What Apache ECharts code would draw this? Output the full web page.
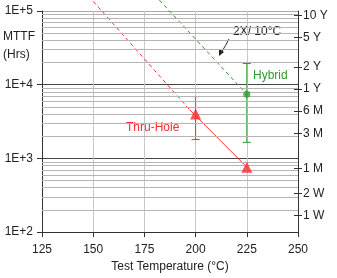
<!DOCTYPE html>
<html><head><meta charset="utf-8">
<script src="https://cdn.jsdelivr.net/npm/echarts@6/dist/echarts.min.js"></script>
<style>html,body{margin:0;padding:0;background:#fff}#c{width:337px;height:278px}</style>
</head><body><div id="c"></div>
<script>
// ---- data ----
const xTicks = [125, 150, 175, 200, 225, 250];
const minorGrid = [200,300,400,500,600,700,800,900,2000,3000,4000,5000,6000,7000,8000,9000,20000,30000,40000,50000,60000,70000,80000,90000];
const rightHours = [87600, 43800, 17520, 8760, 4380, 2190, 730, 336, 168];
const rightLabels = ['10 Y','5 Y','2 Y','1 Y','6 M','3 M','1 M','2 W','1 W'];
const thruPoints = [[200, 4000], [225, 760]];
const thruErr = [[200, 1800, 6900]];
const thruDashed = [[150, 135000], [197, 4600]];
const thruSolid = [[197, 4600], [225, 760]];
const hybridPoints = [[225, 7400]];
const hybridErr = [[225, 1650, 19400]];
const hybridDashed = [[180, 165000], [225, 7400]];

const RED = '#ff2a2a', GREEN = '#2e9a2e', FONT = 'Liberation Sans';
const chart = echarts.init(document.getElementById('c'), null, {renderer: 'canvas'});

function errRender(color) {
  return function (params, api) {
    const x = api.value(0);
    const lo = api.coord([x, api.value(1)]);
    const hi = api.coord([x, api.value(2)]);
    const w = 4;
    const st = {stroke: color, lineWidth: 1};
    return {type: 'group', children: [
      {type: 'line', shape: {x1: lo[0], y1: lo[1], x2: hi[0], y2: hi[1]}, style: st},
      {type: 'line', shape: {x1: hi[0]-w, y1: hi[1], x2: hi[0]+w, y2: hi[1]}, style: st},
      {type: 'line', shape: {x1: lo[0]-w, y1: lo[1], x2: lo[0]+w, y2: lo[1]}, style: st}
    ]};
  };
}

chart.setOption({
  animation: false,
  textStyle: {fontFamily: FONT},
  grid: {left: 42, right: 39, top: 11, bottom: 43},
  xAxis: {
    type: 'value', min: 125, max: 250, interval: 25,
    axisLine: {lineStyle: {color: '#333', width: 1}},
    axisTick: {length: 5, lineStyle: {color: '#333'}},
    axisLabel: {fontSize: 12, color: '#222', margin: 12, fontFamily: FONT},
    splitLine: {show: true, lineStyle: {color: '#c8c8c8', width: 1}},
    name: 'Test Temperature (°C)', nameLocation: 'middle', nameGap: 27,
    nameTextStyle: {fontSize: 12, color: '#222', fontFamily: FONT}
  },
  yAxis: [{
    type: 'log', min: 100, max: 100000, logBase: 10,
    axisLine: {show: true, lineStyle: {color: '#333'}},
    axisTick: {show: true, length: 5, lineStyle: {color: '#333'}},
    axisLabel: {fontSize: 12, color: '#222', margin: 9, fontFamily: FONT,
      formatter: v => '1E+' + Math.round(Math.log10(v))},
    splitLine: {show: true, lineStyle: {color: ['#444', '#444', '#444', '#aaa'], width: 1}}
  }, {
    type: 'value', min: 2, max: 5, position: 'right',
    axisLine: {show: true, onZero: false, lineStyle: {color: '#333'}},
    axisTick: {show: true, inside: false, length: 4, customValues: rightHours.map(h => Math.log10(h)), lineStyle: {color: '#333'}},
    axisLabel: {fontSize: 12, color: '#222', margin: 5, fontFamily: FONT,
      customValues: rightHours.map(h => Math.log10(h)),
      formatter: v => {
        let best = 0, bd = 1e9;
        rightHours.forEach((h, i) => { const d = Math.abs(Math.log10(h) - v); if (d < bd) { bd = d; best = i; } });
        return rightLabels[best];
      }},
    splitLine: {show: false}
  }, {
    type: 'value', min: 2, max: 5, position: 'right',
    axisLine: {show: false},
    axisTick: {show: true, inside: true, length: 4, customValues: rightHours.map(h => Math.log10(h)), lineStyle: {color: '#333'}},
    axisLabel: {show: false},
    splitLine: {show: false}
  }],
  series: [
    {type: 'line', data: [], z: 1, silent: true,
     markLine: {silent: true, symbol: 'none', label: {show: false},
       lineStyle: {color: '#b4b4b4', type: 'solid', width: 1},
       data: minorGrid.map(v => ({yAxis: v}))}},
    {type: 'line', data: thruDashed, clip: false, showSymbol: false, symbol: 'none',
     lineStyle: {color: RED, width: 1, type: [4, 3]}},
    {type: 'line', data: thruSolid, clip: false, showSymbol: false, symbol: 'none',
     lineStyle: {color: RED, width: 1, type: 'solid'}},
    {type: 'line', data: hybridDashed, clip: false, showSymbol: false, symbol: 'none',
     lineStyle: {color: GREEN, width: 1, type: [4, 3]}},
    {type: 'custom', data: thruErr, renderItem: errRender(RED), z: 3},
    {type: 'custom', data: hybridErr, renderItem: errRender(GREEN), z: 3},
    {type: 'scatter', data: thruPoints, symbol: 'triangle', symbolSize: 11,
     itemStyle: {color: RED}, z: 5},
    {type: 'scatter', data: hybridPoints, symbol: 'circle', symbolSize: 7,
     itemStyle: {color: GREEN}, z: 5}
  ],
  graphic: [
    {type: 'text', left: 3, top: 31, style: {text: 'MTTF', font: '12px "Liberation Sans"', fill: '#222'}},
    {type: 'text', left: 3, top: 49, style: {text: '(Hrs)', font: '12px "Liberation Sans"', fill: '#222'}},
    {type: 'text', left: 233, top: 26, style: {text: '2X/ 10°C', font: '12px "Liberation Sans"', fill: '#222'}},
    {type: 'text', left: 253, top: 70, style: {text: 'Hybrid', font: '12px "Liberation Sans"', fill: GREEN}},
    {type: 'text', left: 126, top: 122, style: {text: 'Thru-Hole', font: '12px "Liberation Sans"', fill: RED}},
    {type: 'bezierCurve', shape: {x1: 229, y1: 39, cpx1: 226, cpy1: 45, x2: 221, y2: 53}, style: {stroke: '#222', lineWidth: 1, fill: null}},
    {type: 'polygon', shape: {points: [[219, 56], [219, 49], [224, 52]]}, style: {fill: '#222'}}
  ]
});
</script></body></html>
